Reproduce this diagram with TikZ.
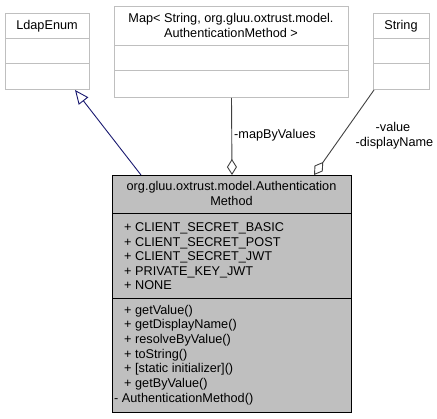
\documentclass[tikz,border=0pt]{standalone}
\usepackage{fontspec}
\setmainfont{Liberation Sans}
\usetikzlibrary{arrows.meta,calc}
\definecolor{boxgrey}{HTML}{BFBFBF}
\definecolor{mainfill}{HTML}{BFBFBF}
\definecolor{navy}{HTML}{191970}
\definecolor{aggr}{HTML}{404040}
\begin{document}
\begin{tikzpicture}[x=1pt,y=-1pt,
  txt/.style={inner sep=0pt,font=\fontsize{12.7}{14.6}\selectfont},
  lbox/.style={draw=boxgrey,line width=1pt,fill=white,anchor=north west,inner sep=0pt},
  mbox/.style={draw=black,line width=1pt,fill=mainfill,anchor=north west,inner sep=0pt},
  sepgrey/.style={draw=boxgrey,line width=1pt},
  sepblack/.style={draw=black,line width=1pt},
  genline/.style={draw=navy,line width=0.9pt,-{Triangle[open,length=14pt,width=12pt]}},
  aggline/.style={draw=aggr,line width=0.9pt,{Diamond[open,length=16pt,width=10pt]}-}
]
\useasboundingbox (0,0) rectangle (437,419);

% LdapEnum
\node[lbox,minimum width=84pt,minimum height=76pt] (ldap) at (5,13) {};
\draw[sepgrey] ($(ldap.north west)+(0,26)$) -- ($(ldap.north east)+(0,26)$);
\draw[sepgrey] ($(ldap.north west)+(0,51)$) -- ($(ldap.north east)+(0,51)$);
\node[txt,anchor=base] (ldapT) at (47,29.3) {LdapEnum};

% Map
\node[lbox,minimum width=234pt,minimum height=91pt] (map) at (114,6) {};
\draw[sepgrey] ($(map.north west)+(0,40)$) -- ($(map.north east)+(0,40)$);
\draw[sepgrey] ($(map.north west)+(0,65)$) -- ($(map.north east)+(0,65)$);
\node[txt,anchor=base] (mapT1) at (231,22.6) {Map< String, org.gluu.oxtrust.model.};
\node[txt,anchor=base] (mapT2) at (231,37.6) {AuthenticationMethod >};

% String
\node[lbox,minimum width=56pt,minimum height=76pt] (str) at (373,13) {};
\draw[sepgrey] ($(str.north west)+(0,26)$) -- ($(str.north east)+(0,26)$);
\draw[sepgrey] ($(str.north west)+(0,51)$) -- ($(str.north east)+(0,51)$);
\node[txt,anchor=base] (strT) at (401,29.3) {String};

% Main class
\node[mbox,minimum width=239pt,minimum height=237pt] (main) at (112,175) {};
\draw[sepblack] ($(main.north west)+(0,39)$) -- ($(main.north east)+(0,39)$);
\draw[sepblack] ($(main.north west)+(0,124)$) -- ($(main.north east)+(0,124)$);
\node[txt,anchor=base] (h1) at (231.5,191) {org.gluu.oxtrust.model.Authentication};
\node[txt,anchor=base] (h2) at (231.5,206) {Method};

\node[txt,anchor=base west] (a1) at (124,231.5) {+ CLIENT\_SECRET\_BASIC};
\node[txt,anchor=base west] (a2) at (124,246.1) {+ CLIENT\_SECRET\_POST};
\node[txt,anchor=base west] (a3) at (124,260.7) {+ CLIENT\_SECRET\_JWT};
\node[txt,anchor=base west] (a4) at (124,275.3) {+ PRIVATE\_KEY\_JWT};
\node[txt,anchor=base west] (a5) at (124,289.9) {+ NONE};

\node[txt,anchor=base west] (m1) at (124,314.2) {+ getValue()};
\node[txt,anchor=base west] (m2) at (124,328.9) {+ getDisplayName()};
\node[txt,anchor=base west] (m3) at (124,343.6) {+ resolveByValue()};
\node[txt,anchor=base west] (m4) at (124,358.3) {+ toString()};
\node[txt,anchor=base west] (m5) at (124,373.0) {+ [static initializer]()};
\node[txt,anchor=base west] (m6) at (124,387.7) {+ getByValue()};
\node[txt,anchor=base west] (m7) at (114,402.4) {- AuthenticationMethod()};

% connectors
\coordinate (genS) at ($(main.north west)+(29,0)$);
\coordinate (genE) at ($(ldap.south west)+(70,0)$);
\draw[genline] (genS) -- (genE);

\draw[aggline] (main.north) -- (map.south);
\node[txt,anchor=base west] (lmap) at (234,138.3) {-mapByValues};

\coordinate (strS) at ($(main.north west)+(202,0)$);
\coordinate (strE) at ($(str.south west)+(1,0)$);
\draw[aggline] (strS) -- (strE);
\node[txt,anchor=base] (lval1) at (393,132) {-value};
\node[txt,anchor=base] (lval2) at (394.5,147) {-displayName};
\end{tikzpicture}
\end{document}
